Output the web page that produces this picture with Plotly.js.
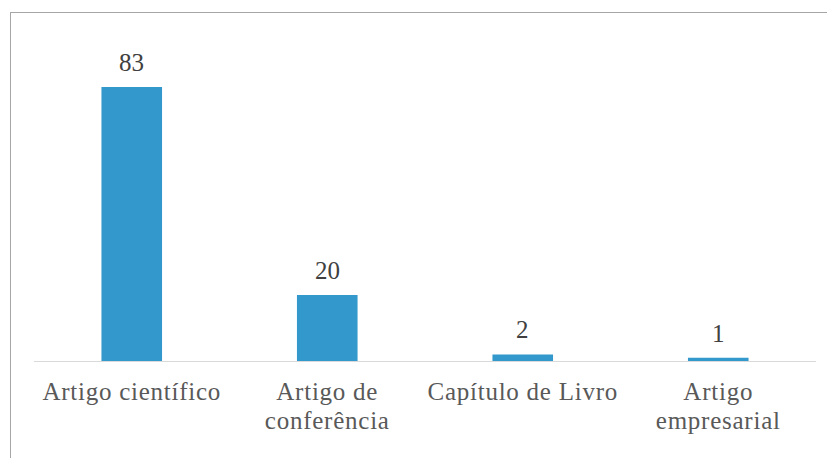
<!DOCTYPE html>
<html>
<head>
<meta charset="utf-8">
<script src="https://cdn.plot.ly/plotly-3.0.1.min.js"></script>
<style>
  html, body { margin: 0; padding: 0; background: #fff; overflow: hidden; }
  #frame { position: absolute; left: 10px; top: 12px; width: 900px; height: 500px;
           border-left: 1.5px solid #a6a6a6; border-top: 1.5px solid #a6a6a6; pointer-events: none; z-index: 5; }
  #chart { position: absolute; left: 0; top: 0; width: 827px; height: 458px; }
  #chart .xtick text { letter-spacing: 0.75px; }
</style>
</head>
<body>
<div id="chart"></div>
<div id="frame"></div>
<script>
const categories = ["Artigo científico", "Artigo de<br>conferência", "Capítulo de Livro", "Artigo<br>empresarial"];
const values = [83, 20, 2, 1];
const valueLabels = ["83", "20", "2", "1"];

const FONT = "'Liberation Serif', 'Times New Roman', serif";

const trace = {
  type: "bar",
  x: categories,
  y: values,
  marker: { color: "#3399CC" },
  hoverinfo: "none"
};

const annotations = categories.map((c, i) => ({
  x: c, y: values[i], xref: "x", yref: "y",
  text: valueLabels[i], showarrow: false,
  yanchor: "bottom", yshift: 9,
  font: { family: FONT, size: 25, color: "#404040" }
}));

const layout = {
  width: 827, height: 458,
  margin: { l: 34, r: 11, t: 64, b: 97 },
  paper_bgcolor: "rgba(0,0,0,0)",
  plot_bgcolor: "rgba(0,0,0,0)",
  bargap: 0.69,
  showlegend: false,
  xaxis: {
    type: "category",
    showline: true, linecolor: "#d9d9d9", linewidth: 1,
    showgrid: false, zeroline: false, ticks: "",
    ticklabelstandoff: 8,
    tickfont: { family: FONT, size: 25, color: "#595959" },
    fixedrange: true
  },
  yaxis: {
    range: [0, 90], visible: false, showgrid: false, zeroline: false, fixedrange: true
  },
  annotations: annotations
};

Plotly.newPlot("chart", [trace], layout, { displayModeBar: false, staticPlot: true }).then(gd => {
  // tighten line spacing of two-line category labels to match the reference
  gd.querySelectorAll(".xtick text tspan.line").forEach(t => {
    if (t.getAttribute("dy") && t.getAttribute("dy") !== "0em") t.setAttribute("dy", "1.16em");
  });
});
</script>
</body>
</html>
